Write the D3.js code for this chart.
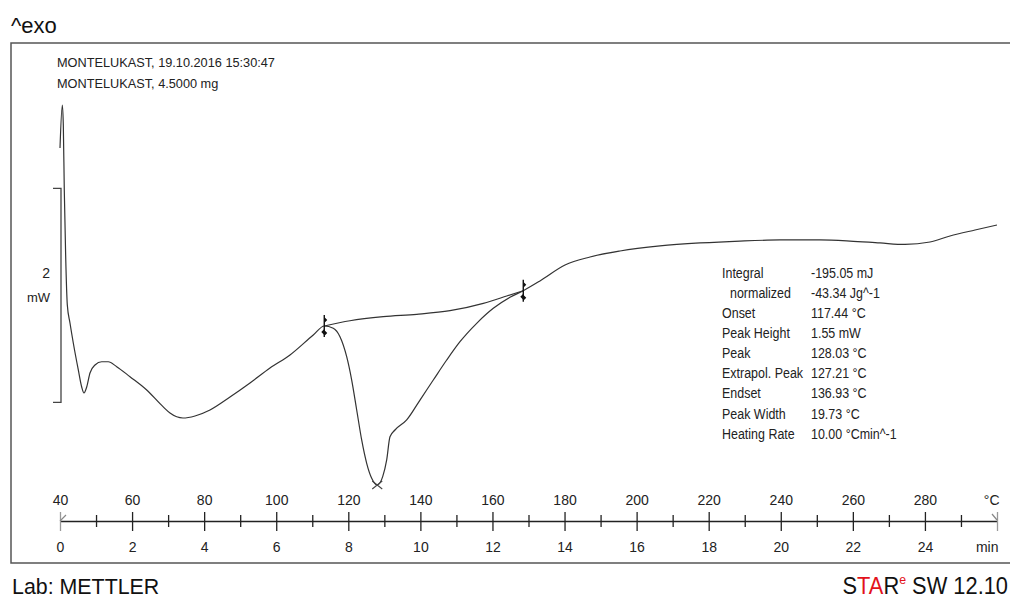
<!DOCTYPE html>
<html>
<head>
<meta charset="utf-8">
<script src="https://cdn.jsdelivr.net/npm/d3@7"></script>
<style>
  html, body { margin: 0; padding: 0; background: #fff; }
  svg { display: block; font-family: "Liberation Sans", Arial, sans-serif; }
</style>
</head>
<body>
<svg id="chart" width="1010" height="598"></svg>
<script>
// DSC heating run of montelukast: sample temperature (°C) and heat flow (mW)
const temperature = [
  40.00, 40.64, 40.92, 41.19, 41.58, 42.03, 42.77, 43.69, 45.08, 46.02,
  46.66, 47.41, 48.32, 49.71, 51.57, 53.40, 55.73, 59.42, 64.06, 68.58,
  70.52, 74.13, 77.46, 81.62, 87.17, 92.72, 98.27, 103.82, 110.28,
  113.33, 115.83, 117.69, 119.55, 120.94, 122.33, 123.71, 125.10, 126.49, 128.03,
  129.54, 130.65, 131.56, 132.95, 136.20, 139.89, 143.58, 147.30, 150.99, 155.62,
  160.23, 164.86, 168.55, 173.18, 180.13, 187.06, 195.39, 206.48, 217.59, 228.68,
  239.78, 250.88, 259.21, 267.53, 274.47, 281.41, 286.96, 293.90, 300.00
];
const heatFlow = [
  -0.822, -0.421, -0.607, -1.215, -1.841, -2.290, -2.458, -2.645, -2.897, -3.056,
  -3.112, -3.056, -2.925, -2.850, -2.820, -2.820, -2.866, -2.960, -3.084, -3.240,
  -3.299, -3.346, -3.327, -3.271, -3.150, -3.019, -2.879, -2.757, -2.570,
  -2.486, -2.507, -2.586, -2.773, -2.991, -3.271, -3.551, -3.769, -3.909, -3.972,
  -3.894, -3.738, -3.521, -3.458, -3.364, -3.178, -2.991, -2.804, -2.633, -2.461,
  -2.321, -2.218, -2.156, -2.065, -1.916, -1.841, -1.785, -1.738, -1.710, -1.692,
  -1.682, -1.682, -1.692, -1.710, -1.724, -1.701, -1.645, -1.589, -1.542
];

// integration baseline drawn under the melting endotherm
const baseTemperature = [113.33, 120.46, 129.70, 138.97, 148.22, 157.46, 163.95, 168.55];
const baseHeatFlow    = [-2.486, -2.437, -2.399, -2.377, -2.343, -2.274, -2.206, -2.156];

// axis labels
const tempTicks = [40, 60, 80, 100, 120, 140, 160, 180, 200, 220, 240, 260, 280];
const timeTicks = [0, 2, 4, 6, 8, 10, 12, 14, 16, 18, 20, 22, 24];
const tempUnit = "°C";
const timeUnit = "min";

// evaluation results
const peakTemp = 128.03;
const resultLabels = ["Integral", "  normalized", "Onset", "Peak Height", "Peak",
                      "Extrapol. Peak", "Endset", "Peak Width", "Heating Rate"];
const resultValues = ["-195.05 mJ", "-43.34 Jg^-1", "117.44 °C", "1.55 mW",
                      peakTemp.toFixed(2) + " °C", "127.21 °C", "136.93 °C",
                      "19.73 °C", "10.00 °Cmin^-1"];

const headerLines = ["MONTELUKAST, 19.10.2016 15:30:47", "MONTELUKAST, 4.5000 mg"];

// 2 mW scale bar (heat-flow span)
const scaleBarTop = -1.2;
const scaleBarSpan = 2;

const svg = d3.select("#chart");
svg.append("rect").attr("width", 1010).attr("height", 598).attr("fill", "#fff");

const x = d3.scaleLinear().domain([40, 300]).range([60, 997]);
const tScale = d3.scaleLinear().domain([0, 26]).range([60, 997]);
const y = d3.scaleLinear().domain([-4, 0]).range([488, 60]);
const axisY = 521;

// narrow text: a text element placed in a horizontally squeezed group
function narrowText(parent, px, py, sx, txt) {
  const g = parent.append("g").attr("transform", `translate(${px},${py}) scale(${sx},1)`);
  return g.append("text").attr("x", 0).attr("y", 0).text(txt);
}

// frame
svg.append("path")
  .attr("d", "M1010,43H11V563H1010")
  .attr("fill", "none").attr("stroke", "#555").attr("stroke-width", 1.5);

// titles
svg.append("text").attr("x", 11).attr("y", 33)
  .attr("font-size", 22).attr("fill", "#111").text("^exo");

narrowText(svg, 12, 594, 0.93, "Lab: METTLER")
  .attr("font-size", 23).attr("fill", "#111");

const starG = svg.append("g").attr("transform", "translate(1008,594) scale(0.95,1)");
const star = starG.append("text").attr("x", 0).attr("y", 0)
  .attr("font-size", 23).attr("text-anchor", "end").attr("fill", "#111");
star.append("tspan").text("S");
star.append("tspan").attr("fill", "#e3121b").text("TA");
star.append("tspan").text("R");
star.append("tspan").attr("fill", "#e3121b").attr("font-size", 13).attr("dy", -10).text("e");
star.append("tspan").attr("dy", 10).text(" SW 12.10");

// header
headerLines.forEach((h, i) => {
  narrowText(svg, 57, 67 + i * 20.5, 0.98, h).attr("font-size", 13).attr("fill", "#222");
});

// scale bar
const sbX = x.range()[0] + 1;
svg.append("path")
  .attr("d", `M${sbX - 8},${y(scaleBarTop)}H${sbX}V${y(scaleBarTop - scaleBarSpan)}H${sbX - 8}`)
  .attr("fill", "none").attr("stroke", "#444").attr("stroke-width", 1.3);
svg.append("text").attr("x", 50).attr("y", 278).attr("text-anchor", "end")
  .attr("font-size", 14).attr("fill", "#222").text(scaleBarSpan);
svg.append("text").attr("x", 50).attr("y", 302).attr("text-anchor", "end")
  .attr("font-size", 13).attr("fill", "#222").text("mW");

// axes
function styleAxis(g) {
  g.attr("font-family", null).attr("font-size", null);
  g.selectAll("text").attr("font-size", 14).attr("fill", "#222");
  g.selectAll("line").attr("stroke", "#222").attr("stroke-width", 1.3);
  g.select(".domain").attr("stroke", "#222").attr("stroke-width", 1.3);
}

const tempAll = tempTicks.concat([300]);
const gTop = svg.append("g").attr("transform", `translate(0,${axisY})`)
  .call(d3.axisTop(x).tickValues(tempAll)
    .tickFormat(d => d === 300 ? tempUnit : d)
    .tickSize(9).tickSizeOuter(0).tickPadding(7))
  .call(styleAxis);

const timeAll = timeTicks.concat([26]);
const gBot = svg.append("g").attr("transform", `translate(0,${axisY})`)
  .call(d3.axisBottom(tScale).tickValues(timeAll)
    .tickFormat(d => d === 26 ? timeUnit : d)
    .tickSize(10).tickSizeOuter(0).tickPadding(11))
  .call(styleAxis);
gBot.select(".domain").remove();

// unit labels sit flush with the end of the scale
gTop.selectAll(".tick").filter(d => d === 300).select("text").attr("text-anchor", "end").attr("x", 2);
gBot.selectAll(".tick").filter(d => d === 26).select("text").attr("text-anchor", "end").attr("x", 1);

// end ticks are drawn lighter
[gTop, gBot].forEach(g => g.selectAll(".tick")
  .filter(d => d === 40 || d === 300 || d === 0 || d === 26)
  .select("line").attr("stroke", "#999"));

// minor ticks
const minorTemps = d3.range(50, 300, 20);
[d3.axisTop(x), d3.axisBottom(x)].forEach(ax => {
  svg.append("g").attr("transform", `translate(0,${axisY})`)
    .call(ax.tickValues(minorTemps).tickFormat("").tickSize(6).tickSizeOuter(0))
    .call(g => { g.select(".domain").remove(); g.selectAll("line").attr("stroke", "#222").attr("stroke-width", 1.3); });
});

// slanted marks at both ends of the scale
svg.append("path")
  .attr("d", `M${x(40)},${axisY} l6,-6 M${x(300) - 5},${axisY - 7} l5,6`)
  .attr("stroke", "#888").attr("stroke-width", 1.2).attr("fill", "none");

// curve
const line = d3.line().x(d => x(d[0])).y(d => y(d[1])).curve(d3.curveMonotoneX);
const curveData = temperature.map((tt, i) => [tt, heatFlow[i]]);
svg.append("path").datum(curveData)
  .attr("d", line).attr("fill", "none")
  .attr("stroke", "#333").attr("stroke-width", 1.2);

const baseData = baseTemperature.map((tt, i) => [tt, baseHeatFlow[i]]);
svg.append("path").datum(baseData)
  .attr("d", line).attr("fill", "none")
  .attr("stroke", "#333").attr("stroke-width", 1.2);

// integration limit markers
function limitMarker(tt, v) {
  const cx = x(tt), cy = y(v);
  const g = svg.append("g").attr("transform", `translate(${cx},${cy})`);
  g.append("line").attr("y1", -11).attr("y2", 11)
    .attr("stroke", "#111").attr("stroke-width", 1.4);
  g.append("path").attr("d", "M0,-9 L3,-6 L0,-3Z M0,3 L-3,6 L0,9Z M0,4 L3,7 L0,10Z")
    .attr("fill", "#111");
}
limitMarker(baseTemperature[0], baseHeatFlow[0]);
limitMarker(baseTemperature[baseTemperature.length - 1], baseHeatFlow[baseHeatFlow.length - 1]);

// peak marker
const peakIdx = temperature.indexOf(peakTemp);
const px = x(peakTemp), py = y(heatFlow[peakIdx]);
svg.append("path")
  .attr("d", `M${px - 5},${py - 4}L${px + 5},${py + 4}M${px - 5},${py + 4}L${px + 5},${py - 4}`)
  .attr("stroke", "#444").attr("stroke-width", 1.1);

// evaluation table
const table = svg.append("g").attr("font-size", 14.5).attr("fill", "#222");
resultLabels.forEach((lab, i) => {
  const ry = 277.5 + i * 20.15;
  narrowText(table, i === 1 ? 730 : 722, ry, 0.86, lab.trim());
  narrowText(table, 811, ry, 0.86, resultValues[i]);
});
</script>
</body>
</html>
